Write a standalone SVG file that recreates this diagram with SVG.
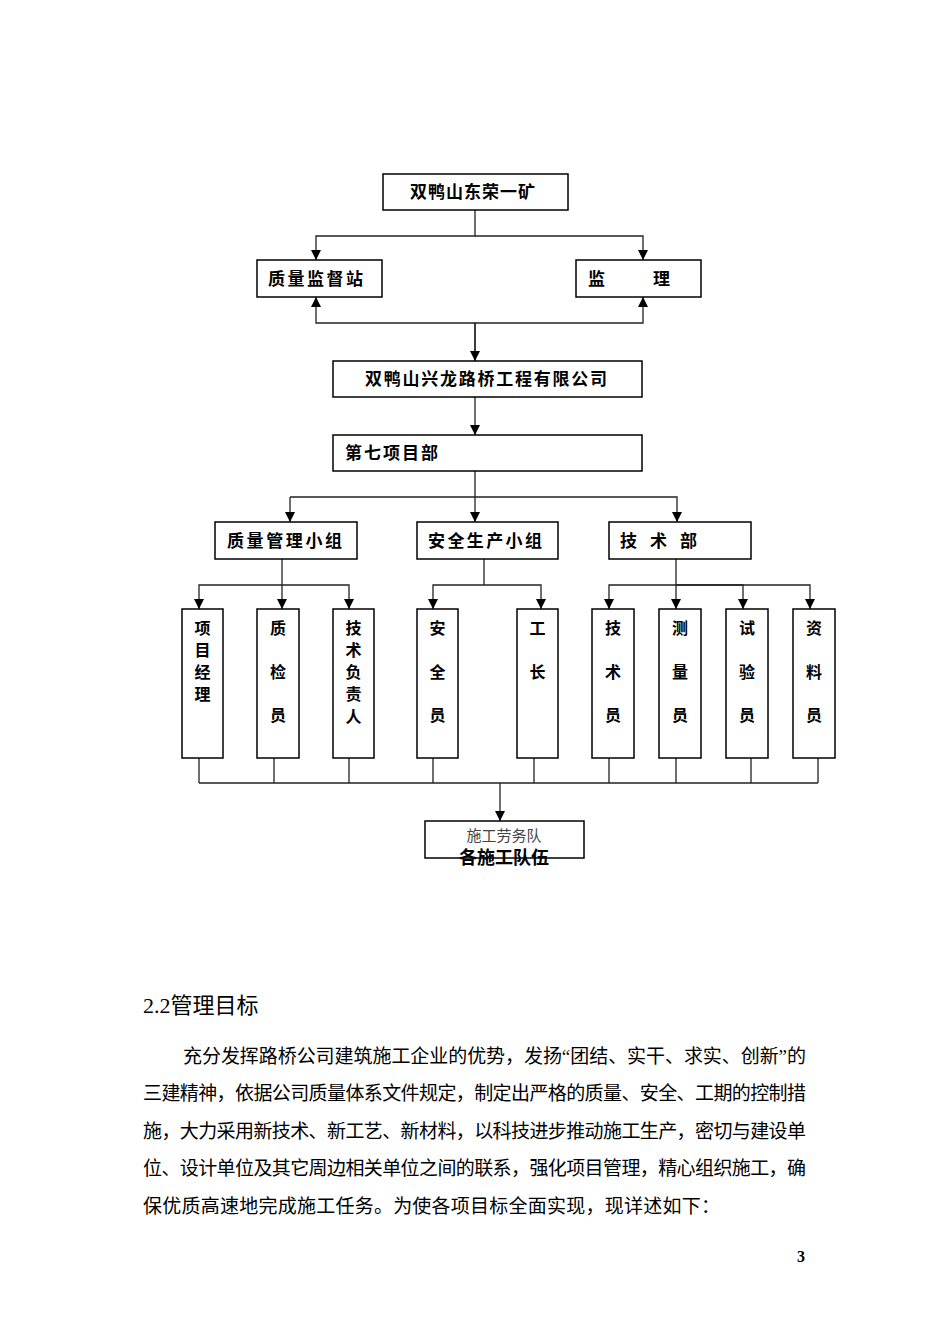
<svg xmlns="http://www.w3.org/2000/svg" width="950" height="1344" viewBox="0 0 950 1344">
<defs>
<marker id="ah" markerUnits="userSpaceOnUse" markerWidth="10" markerHeight="11" refX="10" refY="5" viewBox="0 0 10 10" orient="auto"><path d="M0,0 L10,5 L0,10 z" fill="#000"/></marker>
<style>
.box{fill:#fff;stroke:#000;stroke-width:1.5}
.lbl{font-family:"Noto Sans CJK SC","Noto Sans CJK JP",sans-serif;font-weight:bold;font-size:17px;fill:#000}
.v{text-anchor:middle;font-size:16px}
.ln{fill:none;stroke:#222;stroke-width:1.3}
.ar{fill:none;stroke:#222;stroke-width:1.3;marker-end:url(#ah)}
.body{font-family:"Liberation Serif","Noto Sans CJK SC",serif;font-size:19px;fill:#000}
</style>
</defs>
<rect width="950" height="1344" fill="#fff"/>

<g id="connectors">
<path class="ar" d="M475,210 V236 H316 V260"/>
<path class="ar" d="M475,236 H643 V260"/>
<path class="ar" d="M475,361 V323 H316 V297"/>
<path class="ar" d="M475,323 H643 V297"/>
<path class="ar" d="M475,323 V361"/>
<path class="ar" d="M475,397 V435"/>
<path class="ln" d="M475,471 V497 H290"/>
<path class="ar" d="M290,497 V522"/>
<path class="ar" d="M475,497 V522"/>
<path class="ar" d="M475,497 H677 V522"/>
<path class="ln" d="M282,559 V585"/>
<path class="ar" d="M282,585 H199 V609"/>
<path class="ar" d="M282,585 V609"/>
<path class="ar" d="M282,585 H349 V609"/>
<path class="ln" d="M484,559 V585"/>
<path class="ar" d="M484,585 H433 V609"/>
<path class="ar" d="M484,585 H541 V609"/>
<path class="ln" d="M676,559 V585"/>
<path class="ar" d="M676,585 H609 V609"/>
<path class="ar" d="M676,585 V609"/>
<path class="ar" d="M676,585 H810 V609"/>
<path class="ar" d="M676,585 H743 V609"/>
<path class="ln" d="M199,758 V783 M274,758 V783 M349,758 V783 M433,758 V783 M534,758 V783 M609,758 V783 M676,758 V783 M751,758 V783 M818,758 V783 M199,783 H818"/>
<path class="ar" d="M500,783 V821"/>
</g>

<g id="n-top"><rect class="box" x="383" y="174" width="185" height="36"/><text class="lbl" x="410" y="198" textLength="125" lengthAdjust="spacing">双鸭山东荣一矿</text></g>
<g id="n-zljdz"><rect class="box" x="257" y="260" width="125" height="37"/><text class="lbl" x="268" y="285" textLength="95" lengthAdjust="spacing">质量监督站</text></g>
<g id="n-jl"><rect class="box" x="576" y="260" width="125" height="37"/><text class="lbl" x="588" y="285">监</text><text class="lbl" x="653" y="285">理</text></g>
<g id="n-company"><rect class="box" x="333" y="361" width="309" height="36"/><text class="lbl" x="365" y="385" textLength="242" lengthAdjust="spacing">双鸭山兴龙路桥工程有限公司</text></g>
<g id="n-dept7"><rect class="box" x="333" y="435" width="309" height="36"/><text class="lbl" x="345" y="459" textLength="93" lengthAdjust="spacing">第七项目部</text></g>
<g id="n-zlgl"><rect class="box" x="215" y="522" width="142" height="37"/><text class="lbl" x="227" y="547" textLength="115" lengthAdjust="spacing">质量管理小组</text></g>
<g id="n-aqsc"><rect class="box" x="417" y="522" width="141" height="37"/><text class="lbl" x="428" y="547" textLength="114" lengthAdjust="spacing">安全生产小组</text></g>
<g id="n-jsb"><rect class="box" x="609" y="522" width="142" height="37"/><text class="lbl" x="620" y="547" textLength="77" lengthAdjust="spacing">技术部</text></g>

<g id="n-xmjl"><rect class="box" x="182" y="609" width="41" height="149"/><text class="lbl v" x="202.5" y="634">项</text><text class="lbl v" x="202.5" y="656">目</text><text class="lbl v" x="202.5" y="678">经</text><text class="lbl v" x="202.5" y="700">理</text></g>
<g id="n-zjy"><rect class="box" x="257" y="609" width="42" height="149"/><text class="lbl v" x="278" y="634">质</text><text class="lbl v" x="278" y="678">检</text><text class="lbl v" x="278" y="721">员</text></g>
<g id="n-jsfzr"><rect class="box" x="333" y="609" width="41" height="149"/><text class="lbl v" x="353.5" y="634">技</text><text class="lbl v" x="353.5" y="656">术</text><text class="lbl v" x="353.5" y="678">负</text><text class="lbl v" x="353.5" y="700">责</text><text class="lbl v" x="353.5" y="722">人</text></g>
<g id="n-aqy"><rect class="box" x="417" y="609" width="41" height="149"/><text class="lbl v" x="437.5" y="634">安</text><text class="lbl v" x="437.5" y="678">全</text><text class="lbl v" x="437.5" y="721">员</text></g>
<g id="n-gz"><rect class="box" x="517" y="609" width="41" height="149"/><text class="lbl v" x="537.5" y="634">工</text><text class="lbl v" x="537.5" y="678">长</text></g>
<g id="n-jsy"><rect class="box" x="592" y="609" width="42" height="149"/><text class="lbl v" x="613" y="634">技</text><text class="lbl v" x="613" y="678">术</text><text class="lbl v" x="613" y="721">员</text></g>
<g id="n-cly"><rect class="box" x="659" y="609" width="42" height="149"/><text class="lbl v" x="680" y="634">测</text><text class="lbl v" x="680" y="678">量</text><text class="lbl v" x="680" y="721">员</text></g>
<g id="n-syy"><rect class="box" x="726" y="609" width="42" height="149"/><text class="lbl v" x="747" y="634">试</text><text class="lbl v" x="747" y="678">验</text><text class="lbl v" x="747" y="721">员</text></g>
<g id="n-zly"><rect class="box" x="793" y="609" width="42" height="149"/><text class="lbl v" x="814" y="634">资</text><text class="lbl v" x="814" y="678">料</text><text class="lbl v" x="814" y="721">员</text></g>

<g id="n-team"><rect class="box" x="425" y="821" width="159" height="37"/>
<text x="504" y="841" text-anchor="middle" style="font-family:'Noto Sans CJK SC',sans-serif;font-size:15px;fill:#444">施工劳务队</text>
<text class="lbl" x="504" y="864" text-anchor="middle" style="font-size:18px">各施工队伍</text></g>

<g id="body">
<text x="143" y="1013" style="font-family:'Liberation Serif','Noto Sans CJK SC',serif;font-size:22px;fill:#000">2.2<tspan style="font-family:'Noto Sans CJK SC',sans-serif">管理目标</tspan></text>
<text class="body" x="183" y="1063" textLength="623" lengthAdjust="spacing">充分发挥路桥公司建筑施工企业的优势，发扬“团结、实干、求实、创新”的</text>
<text class="body" x="143" y="1100" textLength="663" lengthAdjust="spacing">三建精神，依据公司质量体系文件规定，制定出严格的质量、安全、工期的控制措</text>
<text class="body" x="143" y="1138" textLength="663" lengthAdjust="spacing">施，大力采用新技术、新工艺、新材料，以科技进步推动施工生产，密切与建设单</text>
<text class="body" x="143" y="1175" textLength="663" lengthAdjust="spacing">位、设计单位及其它周边相关单位之间的联系，强化项目管理，精心组织施工，确</text>
<text class="body" x="143" y="1213" textLength="577" lengthAdjust="spacing">保优质高速地完成施工任务。为使各项目标全面实现，现详述如下：</text>
<text x="797" y="1262" style="font-family:'Liberation Serif',serif;font-size:16px;font-weight:bold;fill:#000">3</text>
</g>
</svg>
